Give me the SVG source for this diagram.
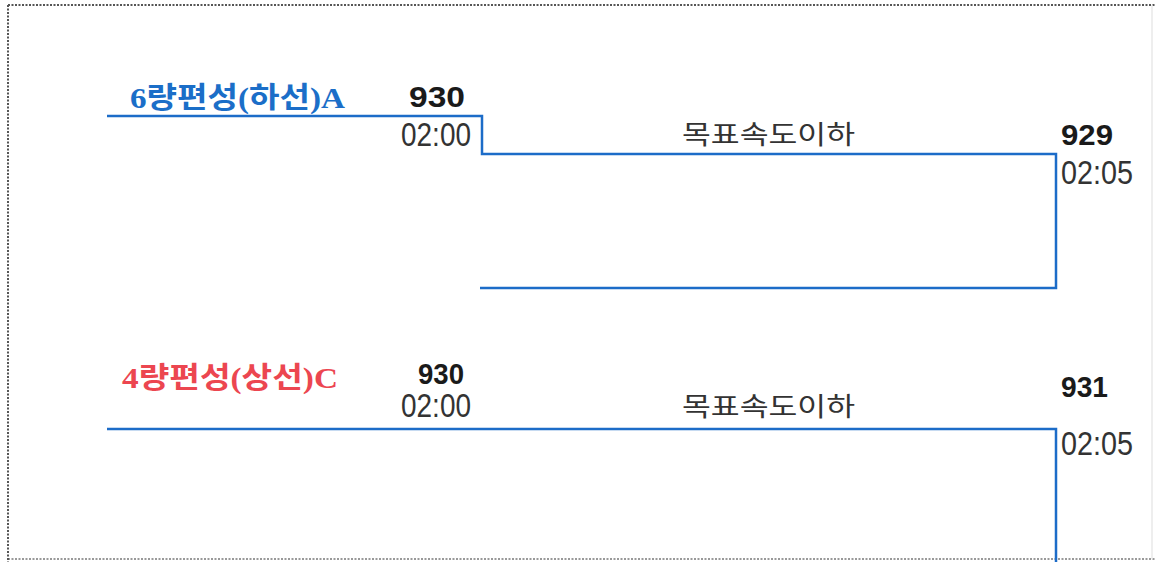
<svg xmlns="http://www.w3.org/2000/svg" width="1155" height="562" viewBox="0 0 1155 562">
<style>
.frame{stroke:#555;stroke-width:2;stroke-dasharray:2 1.5;fill:none}
.wire{stroke:#1c6cc8;stroke-width:2.5;fill:none}
.num{font-family:"Liberation Sans",Arial,sans-serif;font-weight:bold;font-size:30px;fill:#1a1a1a}
.time{font-family:"Liberation Sans",Arial,sans-serif;font-size:33px;fill:#333}
.lbl{font-family:"Noto Sans CJK KR",sans-serif;font-size:26px;fill:#333}
.title{font-family:"Liberation Serif","Noto Sans CJK KR",serif;font-weight:bold;font-size:29px}
</style>
<rect width="1155" height="562" fill="#fff"/>
<g id="frame">
<line class="frame" x1="8" y1="5" x2="1155" y2="5"/>
<line class="frame" x1="8" y1="5" x2="8" y2="562"/>
<line class="frame" x1="8" y1="559" x2="1155" y2="559" stroke-opacity="0.6"/>
<line x1="1152" y1="5" x2="1152" y2="559" stroke="#ddd" stroke-width="1"/>
</g>
<g id="connectors">
<path class="wire" d="M107 116 H482 V154 H1056 V288 H480"/>
<path class="wire" d="M107 429 H1056 V562"/>
</g>
<g id="train-A">
<text class="title" x="130" y="108" fill="#1b6ec8" textLength="215" lengthAdjust="spacingAndGlyphs">6량편성(하선)A</text>
</g>
<g id="station-930-A">
<text class="num" x="409" y="107" textLength="56" lengthAdjust="spacingAndGlyphs">930</text>
<text class="time" x="401" y="146" textLength="70" lengthAdjust="spacingAndGlyphs">02:00</text>
</g>
<g id="label-A">
<text class="lbl" x="682" y="144" textLength="173" lengthAdjust="spacingAndGlyphs">목표속도이하</text>
</g>
<g id="station-929">
<text class="num" x="1061" y="145" textLength="52" lengthAdjust="spacingAndGlyphs">929</text>
<text class="time" x="1061" y="184" textLength="72" lengthAdjust="spacingAndGlyphs">02:05</text>
</g>
<g id="train-C">
<text class="title" x="122" y="388" fill="#ec4650" textLength="216" lengthAdjust="spacingAndGlyphs">4량편성(상선)C</text>
</g>
<g id="station-930-C">
<text class="num" x="418" y="384" textLength="46" lengthAdjust="spacingAndGlyphs">930</text>
<text class="time" x="401" y="417" textLength="70" lengthAdjust="spacingAndGlyphs">02:00</text>
</g>
<g id="label-C">
<text class="lbl" x="682" y="416" textLength="173" lengthAdjust="spacingAndGlyphs">목표속도이하</text>
</g>
<g id="station-931">
<text class="num" x="1061" y="397" textLength="47" lengthAdjust="spacingAndGlyphs">931</text>
<text class="time" x="1061" y="455" textLength="72" lengthAdjust="spacingAndGlyphs">02:05</text>
</g>
</svg>
